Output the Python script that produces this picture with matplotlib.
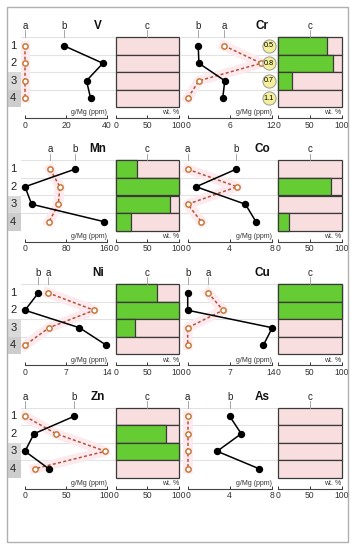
import matplotlib.pyplot as plt
from matplotlib.patches import Rectangle

plt.rcParams['font.family'] = ['Liberation Sans', 'DejaVu Sans']

rows = [1, 2, 3, 4]
row_labels = ['1', '2', '3', '4']
elements = ['V', 'Cr', 'Mn', 'Co', 'Ni', 'Cu', 'Zn', 'As']
xmax = [40, 12, 160, 8, 14, 14, 100, 8]
xticks = [[0, 20, 40], [0, 6, 12], [0, 80, 160], [0, 4, 8],
          [0, 7, 14], [0, 7, 14], [0, 50, 100], [0, 4, 8]]

# series a (open circles, dashed), b (filled, solid), c (wt. % bars)
V_a = [0, 0, 0, 0]
V_b = [19, 38, 30, 32]
V_c = [0, 0, 0, 0]
Cr_a = [5.2, 10.5, 1.6, 0]
Cr_b = [1.5, 1.6, 5.3, 5.0]
Cr_c = [77, 86, 23, 0]
Mn_a = [49, 68, 65, 47]
Mn_b = [97, 0, 13, 155]
Mn_c = [33, 100, 85, 24]
Co_a = [0, 4.7, 0, 1.3]
Co_b = [4.6, 0.8, 5.5, 6.5]
Co_c = [0, 84, 0, 17]
Ni_a = [3.9, 11.8, 4.1, 0]
Ni_b = [2.3, 0, 9.3, 13.9]
Ni_c = [66, 100, 31, 0]
Cu_a = [3.4, 5.9, 0, 0]
Cu_b = [0, 0, 14.1, 12.6]
Cu_c = [100, 100, 0, 0]
Zn_a = [0, 38, 98, 12]
Zn_b = [60, 11, 0, 29]
Zn_c = [0, 80, 100, 0]
As_a = [0, 0, 0, 0]
As_b = [4.0, 5.1, 2.8, 6.8]
As_c = [0, 0, 0, 0]
Cr_notes = ['0.5', '0.8', '0.7', '1.1']

series_a = [V_a, Cr_a, Mn_a, Co_a, Ni_a, Cu_a, Zn_a, As_a]
series_b = [V_b, Cr_b, Mn_b, Co_b, Ni_b, Cu_b, Zn_b, As_b]
series_c = [V_c, Cr_c, Mn_c, Co_c, Ni_c, Cu_c, Zn_c, As_c]

W, H = 357, 550
fig = plt.figure(figsize=(W / 100, H / 100), dpi=100)


def px(x0, y0, x1, y1):
    return [x0 / W, 1 - y1 / H, (x1 - x0) / W, (y1 - y0) / H]


cols = [dict(ax0=21, zero=25, top=107, ax1=115.7, b1=179),
        dict(ax0=181, zero=187.7, top=271.7, ax1=277.7, b1=341.7)]
tops = [37, 160.5, 284, 407.5]
ph = 70
rh = ph / 4

a_edge = '#c87a3a'
a_line = '#b3553a'
halo = '#fdeaee'
pink = '#f8dede'
green = '#66cc33'
edge = '#3a3a3a'
grid = '#e2e2e2'
lab_y = 0.5 - (37 - 26) / rh
unit_y = 4.5 + 6 / rh
tick_fs = 6.2


def col_label(ax, x, s):
    ax.plot([x, x], [0.5, 0.12], color='#999999', lw=0.6, clip_on=False)
    ax.text(x, lab_y, s, ha='center', va='center', fontsize=7, color='#222222')


for i, el in enumerate(elements):
    r, c = i // 2, i % 2
    col = cols[c]
    top = tops[r]
    m = xmax[i]
    a, b, cc = series_a[i], series_b[i], series_c[i]

    # line panel
    ax = fig.add_axes(px(col['ax0'], top, col['ax1'], top + ph))
    scale = (col['top'] - col['zero']) / m
    ax.set_xlim((col['ax0'] - col['zero']) / scale, (col['ax1'] - col['zero']) / scale)
    ax.set_ylim(4.5, 0.5)
    for y in [0.5, 1.5, 2.5, 3.5]:
        ax.axhline(y, color=grid, lw=0.8, zorder=0)
    ax.plot(a, rows, color=halo, lw=7, solid_capstyle='projecting', zorder=1)
    ax.plot(a, rows, ls=(0, (2, 1.5)), color=a_line, lw=1.1, zorder=3)
    ax.plot(a, rows, ls='none', marker='o', mfc='white', mec=a_edge, ms=3.8,
            mew=1.1, zorder=3, clip_on=False)
    ax.plot(b, rows, color='black', lw=1.1, marker='o', ms=4.3, zorder=4, clip_on=False)
    col_label(ax, a[0], 'a')
    col_label(ax, b[0], 'b')
    ax.text(0.89 * m, lab_y, el, ha='center', va='center', fontsize=8.5,
            fontweight='bold', color='#111111')
    if el == 'Cr':
        for y, s in zip(rows, Cr_notes):
            ax.plot(11.6, y, marker='o', ms=9.5, mfc='#f3ef9a', mec='#999999',
                    mew=0.7, zorder=5, clip_on=False)
            ax.text(11.6, y, s, ha='center', va='center', fontsize=5.2, zorder=6)
    for s in ['left', 'right', 'top']:
        ax.spines[s].set_visible(False)
    ax.spines['bottom'].set_position(('outward', 8))
    ax.spines['bottom'].set_bounds(0, m)
    ax.spines['bottom'].set_color('#444444')
    ax.spines['bottom'].set_linewidth(0.8)
    ax.set_xticks(xticks[i])
    ax.tick_params(axis='x', direction='in', length=2.5, width=0.7,
                   labelsize=tick_fs, pad=2, colors='#333333')
    ax.set_yticks([])
    ax.patch.set_alpha(0)
    ax.text(m, unit_y, 'g/Mg (ppm)', ha='right', va='center', fontsize=5, color='#333333')

    # bar panel
    bx = fig.add_axes(px(col['ax1'], top, col['b1'], top + ph))
    bx.set_xlim(0, 100)
    bx.set_ylim(4.5, 0.5)
    for y, v in zip(rows, cc):
        bx.add_patch(Rectangle((0, y - 0.5), 100, 1, fc=pink, ec=edge, lw=0.9, clip_on=False))
        if v > 0:
            bx.add_patch(Rectangle((0, y - 0.5), v, 1, fc=green, ec=edge, lw=0.9, clip_on=False))
    col_label(bx, 50, 'c')
    for s in ['left', 'right', 'top']:
        bx.spines[s].set_visible(False)
    bx.spines['bottom'].set_position(('outward', 8))
    bx.spines['bottom'].set_bounds(0, 100)
    bx.spines['bottom'].set_color('#444444')
    bx.spines['bottom'].set_linewidth(0.8)
    bx.set_xticks([0, 50, 100])
    bx.tick_params(axis='x', direction='in', length=2.5, width=0.7,
                   labelsize=tick_fs, pad=2, colors='#333333')
    bx.set_yticks([])
    bx.patch.set_alpha(0)
    bx.text(100, unit_y, 'wt. %', ha='right', va='center', fontsize=5, color='#333333')

    # row labels (left column only)
    if c == 0:
        lx = fig.add_axes(px(7, top, 21, top + ph))
        lx.set_xlim(0, 1)
        lx.set_ylim(4.5, 0.5)
        lx.axis('off')
        for y, s in zip(rows, row_labels):
            if y == 3:
                lx.add_patch(Rectangle((0, y - 0.5), 1, 1, fc='#dadada', ec='none'))
            elif y == 4:
                lx.add_patch(Rectangle((0, y - 0.5), 1, 1, fc='#cdcdcd', ec='none'))
            lx.text(0.45, y, s, ha='center', va='center', fontsize=8, color='#222222')

fig.add_artist(Rectangle((7 / W, 1 - 542 / H), (348 - 7) / W, (542 - 7) / H,
                         transform=fig.transFigure, fill=False, ec='#b0b0b0', lw=1))

fig.savefig('out.png', dpi=100)
plt.close()
